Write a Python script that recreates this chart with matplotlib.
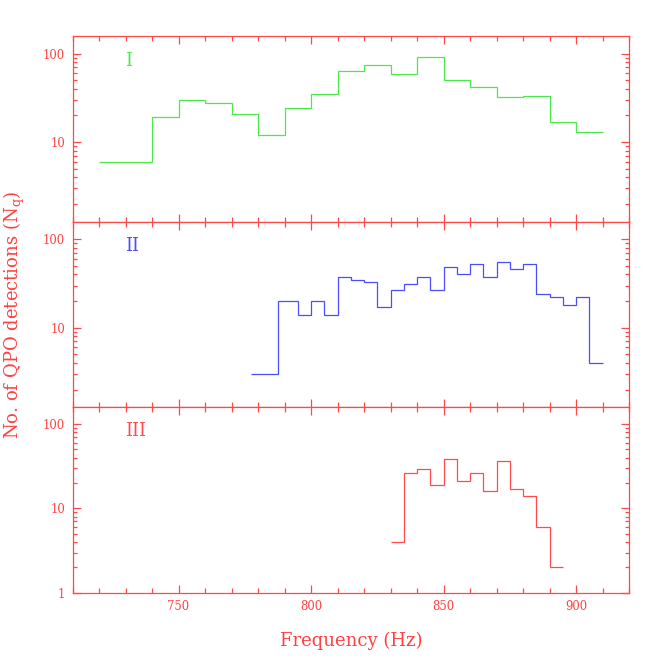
import matplotlib
matplotlib.use("Agg")
import matplotlib.pyplot as plt
from matplotlib.ticker import MultipleLocator, LogLocator, FixedLocator, FixedFormatter, NullFormatter

plt.rcParams['font.family'] = ['DejaVu Serif']
plt.rcParams['mathtext.fontset'] = 'dejavuserif'

# Panel I (green)
edges_1 = [720, 740, 750, 760, 770, 780, 790, 800, 810, 820, 830, 840, 850, 860, 870, 880, 890, 900, 910]
counts_1 = [6, 19, 30, 28, 21, 12, 24, 35, 63, 74, 59, 92, 51, 42, 32, 33, 17, 13]

# Panel II (blue)
edges_2 = [777.5, 787.5, 795, 800, 805, 810, 815, 820, 825, 830, 835, 840, 845, 850, 855, 860,
           865, 870, 875, 880, 885, 890, 895, 900, 905, 910]
counts_2 = [3, 20, 14, 20, 14, 37, 35, 33, 17, 27, 31, 37, 27, 48, 41, 53, 37, 55, 46, 53,
            24, 22, 18, 22, 4]

# Panel III (red)
edges_3 = [830, 835, 840, 845, 850, 855, 860, 865, 870, 875, 880, 885, 890, 895]
counts_3 = [4, 26, 29, 19, 38, 21, 26, 16, 36, 17, 14, 6, 2]

panel_names = ["I", "II", "III"]
panel_colors = ["#4be84b", "#4b4bff", "#ff4b4b"]
x_major = [750, 800, 850, 900]
xlim = (710, 920)

FRAME = "#ff4848"
TEXT = "#ff4040"

fig = plt.figure(figsize=(6.64, 6.64), dpi=100)
L, W, H = 0.1092, 0.8381, 0.2797
bottoms = [0.6661, 0.3866, 0.1072]
ylims = [(10**0.1, 10**2.2), (10**0.1, 10**2.2), (1, 10**2.2)]
data = [(edges_1, counts_1), (edges_2, counts_2), (edges_3, counts_3)]

for i in range(3):
    ax = fig.add_axes([L, bottoms[i], W, H])
    e, c = data[i]
    ax.stairs(c, e, baseline=None, color=panel_colors[i], lw=0.9)
    ax.set_yscale('log')
    ax.set_xlim(*xlim)
    ax.set_ylim(*ylims[i])
    for s in ax.spines.values():
        s.set_color(FRAME)
        s.set_linewidth(0.9)
    ax.xaxis.set_major_locator(FixedLocator(x_major))
    ax.xaxis.set_minor_locator(MultipleLocator(10))
    ax.yaxis.set_minor_locator(LogLocator(base=10, subs=range(2, 10)))
    ax.yaxis.set_minor_formatter(NullFormatter())
    if i == 2:
        ax.yaxis.set_major_locator(FixedLocator([1, 10, 100]))
        ax.yaxis.set_major_formatter(FixedFormatter(['1', '10', '100']))
    else:
        ax.yaxis.set_major_locator(FixedLocator([10, 100]))
        ax.yaxis.set_major_formatter(FixedFormatter(['10', '100']))
    ax.tick_params(axis='both', which='both', direction='in', top=True, right=True,
                   color=FRAME, width=0.9, labelcolor=TEXT)
    ax.tick_params(axis='x', which='major', length=6.0, labelsize=8.4, pad=5)
    ax.tick_params(axis='x', which='minor', length=3.3)
    ax.tick_params(axis='y', which='major', length=6.0, labelsize=8.4, pad=5.5)
    ax.tick_params(axis='y', which='minor', length=3.0)
    if i < 2:
        ax.tick_params(axis='x', labelbottom=False)
    ax.text(730, 83, panel_names[i], color=panel_colors[i], fontsize=13,
            ha='left', va='center')
    if i == 2:
        ax.set_xlabel('Frequency (Hz)', color=TEXT, fontsize=13, labelpad=14)

fig.text(0.022, (0.1072 + 0.6661 + H) / 2, 'No. of QPO detections (N$_\\mathrm{q}$)',
         rotation=90, color=TEXT, fontsize=13, ha='center', va='center')

fig.savefig('out.png', dpi=100)
